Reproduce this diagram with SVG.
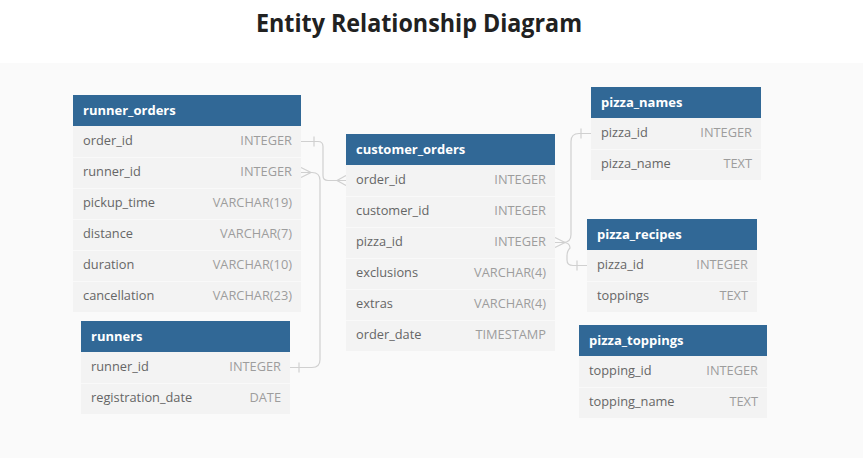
<svg xmlns="http://www.w3.org/2000/svg" width="863" height="458" viewBox="0 0 863 458">
<style>
.bg{fill:#fafafa}
.hdr{fill:#316896}
.row{fill:#f3f3f3}
.sep{stroke:#f9f9f9;stroke-width:1}
.ht{font-family:"Open Sans","Noto Sans",sans-serif;font-weight:bold;font-size:13px;fill:#ffffff}
.fn{font-family:"Open Sans","Noto Sans",sans-serif;font-size:12.8px;fill:#666666}
.ft{font-family:"Open Sans","Noto Sans",sans-serif;font-size:12.8px;fill:#9d9d9d;text-anchor:end}
.title{font-family:"Open Sans","Noto Sans",sans-serif;font-weight:bold;font-size:25px;fill:#212121;text-anchor:middle}
.cn{fill:none;stroke:#d0d0d0;stroke-width:1.2}
</style>
<rect x="0" y="0" width="863" height="458" fill="#ffffff"/>
<rect class="bg" x="0" y="63" width="863" height="395"/>
<text class="title" x="419" y="32" textLength="326" lengthAdjust="spacingAndGlyphs">Entity Relationship Diagram</text>

<g id="connectors">
  <!-- runner_orders.order_id -> customer_orders.order_id -->
  <path class="cn" d="M301,141.5 H318 Q323,141.5 323,146.5 V175.5 Q323,180.5 328,180.5 H346"/>
  <path class="cn" d="M314,136.5 V146.5"/>
  <path class="cn" d="M346,175.5 L337,180.5 L346,185.5"/>
  <!-- runners.runner_id -> runner_orders.runner_id -->
  <path class="cn" d="M301,172.5 H312 Q320,172.5 320,180.5 V359.5 Q320,367.5 312,367.5 H290"/>
  <path class="cn" d="M301,167.5 L311,172.5 L301,177.5"/>
  <path class="cn" d="M299,362.5 V372.5"/>
  <!-- customer_orders.pizza_id -> pizza_names / pizza_recipes -->
  <path class="cn" d="M555,242.5 H563 Q571,242.5 571,234.5 V141.5 Q571,133.5 579,133.5 H591"/>
  <path class="cn" d="M563,242.5 Q570,242.5 570,248 Q567,251 567,256 V260 Q567,265.5 573,265.5 H587"/>
  <path class="cn" d="M555,237.5 L565,242.5 L555,247.5"/>
  <path class="cn" d="M581,128.5 V138.5"/>
  <path class="cn" d="M577,260.5 V270.5"/>
</g>

<g id="runner_orders" transform="translate(73,95)">
  <rect class="hdr" x="0" y="0" width="228" height="31"/>
  <text class="ht" x="10" y="20">runner_orders</text>
  <rect class="row" x="0" y="31" width="228" height="186"/>
  <path class="sep" d="M0,62.5 H228 M0,93.5 H228 M0,124.5 H228 M0,155.5 H228 M0,186.5 H228"/>
  <text class="fn" x="10" y="50">order_id</text><text class="ft" x="219" y="50">INTEGER</text>
  <text class="fn" x="10" y="81">runner_id</text><text class="ft" x="219" y="81">INTEGER</text>
  <text class="fn" x="10" y="112">pickup_time</text><text class="ft" x="219" y="112">VARCHAR(19)</text>
  <text class="fn" x="10" y="143">distance</text><text class="ft" x="219" y="143">VARCHAR(7)</text>
  <text class="fn" x="10" y="174">duration</text><text class="ft" x="219" y="174">VARCHAR(10)</text>
  <text class="fn" x="10" y="205">cancellation</text><text class="ft" x="219" y="205">VARCHAR(23)</text>
</g>

<g id="runners" transform="translate(81,321)">
  <rect class="hdr" x="0" y="0" width="209" height="31"/>
  <text class="ht" x="10" y="20">runners</text>
  <rect class="row" x="0" y="31" width="209" height="62"/>
  <path class="sep" d="M0,62.5 H209"/>
  <text class="fn" x="10" y="50">runner_id</text><text class="ft" x="200" y="50">INTEGER</text>
  <text class="fn" x="10" y="81">registration_date</text><text class="ft" x="200" y="81">DATE</text>
</g>

<g id="customer_orders" transform="translate(346,134)">
  <rect class="hdr" x="0" y="0" width="209" height="31"/>
  <text class="ht" x="10" y="20">customer_orders</text>
  <rect class="row" x="0" y="31" width="209" height="186"/>
  <path class="sep" d="M0,62.5 H209 M0,93.5 H209 M0,124.5 H209 M0,155.5 H209 M0,186.5 H209"/>
  <text class="fn" x="10" y="50">order_id</text><text class="ft" x="200" y="50">INTEGER</text>
  <text class="fn" x="10" y="81">customer_id</text><text class="ft" x="200" y="81">INTEGER</text>
  <text class="fn" x="10" y="112">pizza_id</text><text class="ft" x="200" y="112">INTEGER</text>
  <text class="fn" x="10" y="143">exclusions</text><text class="ft" x="200" y="143">VARCHAR(4)</text>
  <text class="fn" x="10" y="174">extras</text><text class="ft" x="200" y="174">VARCHAR(4)</text>
  <text class="fn" x="10" y="205">order_date</text><text class="ft" x="200" y="205">TIMESTAMP</text>
</g>

<g id="pizza_names" transform="translate(591,87)">
  <rect class="hdr" x="0" y="0" width="170" height="31"/>
  <text class="ht" x="10" y="20">pizza_names</text>
  <rect class="row" x="0" y="31" width="170" height="62"/>
  <path class="sep" d="M0,62.5 H170"/>
  <text class="fn" x="10" y="50">pizza_id</text><text class="ft" x="161" y="50">INTEGER</text>
  <text class="fn" x="10" y="81">pizza_name</text><text class="ft" x="161" y="81">TEXT</text>
</g>

<g id="pizza_recipes" transform="translate(587,219)">
  <rect class="hdr" x="0" y="0" width="170" height="31"/>
  <text class="ht" x="10" y="20">pizza_recipes</text>
  <rect class="row" x="0" y="31" width="170" height="62"/>
  <path class="sep" d="M0,62.5 H170"/>
  <text class="fn" x="10" y="50">pizza_id</text><text class="ft" x="161" y="50">INTEGER</text>
  <text class="fn" x="10" y="81">toppings</text><text class="ft" x="161" y="81">TEXT</text>
</g>

<g id="pizza_toppings" transform="translate(579,325)">
  <rect class="hdr" x="0" y="0" width="188" height="31"/>
  <text class="ht" x="10" y="20">pizza_toppings</text>
  <rect class="row" x="0" y="31" width="188" height="62"/>
  <path class="sep" d="M0,62.5 H188"/>
  <text class="fn" x="10" y="50">topping_id</text><text class="ft" x="179" y="50">INTEGER</text>
  <text class="fn" x="10" y="81">topping_name</text><text class="ft" x="179" y="81">TEXT</text>
</g>
</svg>
